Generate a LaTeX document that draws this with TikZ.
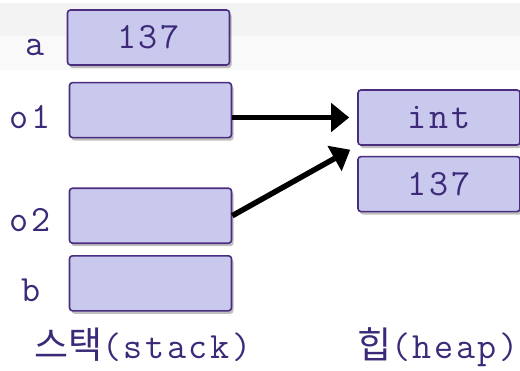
\documentclass[tikz,border=0pt]{standalone}
\usepackage{fontspec}
\setmonofont{Latin Modern Mono}[LetterSpace=7]
\newfontfamily\kofont{Noto Sans CJK KR}
\usepackage{tikz}
\usetikzlibrary{arrows.meta, positioning, shadows}
\definecolor{cellfill}{HTML}{C9C9EE}
\definecolor{celldraw}{HTML}{4A2D7E}
\definecolor{celltext}{HTML}{3C2A78}
\definecolor{bandA}{HTML}{F3F3F3}
\definecolor{bandB}{HTML}{F9F9F9}
\tikzstyle{cell} = [rectangle, minimum width=162pt, minimum height=55pt, inner sep=0pt, text centered, draw=celldraw, line width=1.6pt, fill=cellfill, rounded corners=3pt, drop shadow={shadow xshift=2pt, shadow yshift=-3pt, fill=black, opacity=0.25}, font=\fontsize{37}{37}\ttfamily, text=celltext]
\tikzstyle{varname} = [font=\fontsize{37}{37}\ttfamily, text=celltext, anchor=base]
\tikzstyle{caption} = [font=\fontsize{37}{37}\ttfamily, text=celltext, anchor=base west, inner sep=0pt]
\tikzstyle{arrow} = [line width=5.5pt, -{Triangle[length=18pt, width=28pt]}, shorten >=8pt]

\begin{document}
\begin{tikzpicture}[x=1pt, y=-1pt]
    % Background
    \useasboundingbox (0,0) rectangle (520,370);
    \fill[bandA] (0,3) rectangle (520,36);
    \fill[bandB] (0,36) rectangle (520,70);

    % Stack cells
    \node (a) [cell] at (148.5,37.5) {137};
    \node (o1) [cell, below=16pt of a.south, anchor=north, xshift=2pt] {};
    \node (o2) [cell, below=49pt of o1] {};
    \node (b) [cell, below=11pt of o2] {};

    % Heap cells
    \node (int) [cell] at (439,117.5) {int};
    \node (val) [cell, below=10pt of int] {137};

    % Variable names
    \node [varname] at (35,55) {a};
    \node [varname] at (30,128) {o1};
    \node [varname] at (30,231) {o2};
    \node [varname] at (31,301) {b};

    % Arrows
    \draw [arrow] (o1.east |- int.west) -- (int.west);
    \draw [arrow] (o2.east) -- (int.south west);

    % Labels
    \node (stacklbl) [caption] at (34,358) {{\kofont 스택}(stack)};
    \node (heaplbl) [caption] at (357,358) {{\kofont 힙}(heap)};
\end{tikzpicture}
\end{document}
